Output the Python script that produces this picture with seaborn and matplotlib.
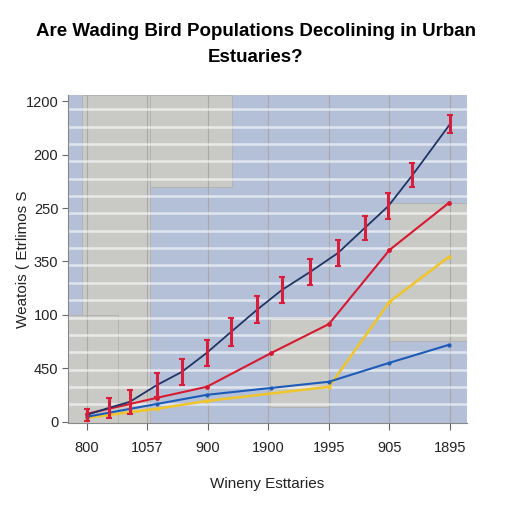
import numpy as np
import seaborn as sns
import matplotlib.pyplot as plt
from matplotlib.ticker import MultipleLocator
from matplotlib.patches import Rectangle

# x positions are slots along the (oddly labelled) time axis
x_ticks = [0, 1, 2, 3, 4, 5, 6]
x_tick_labels = ["800", "1057", "900", "1900", "1995", "905", "1895"]
y_ticks = [0, 200, 400, 600, 800, 1000, 1200]
y_tick_labels = ["0", "450", "100", "350", "250", "200", "1200"]

# total estimate with error bars
total_x = [0, 0.36, 0.71, 1.16, 1.57, 1.98, 2.38, 2.81, 3.22, 3.69, 4.15, 4.59, 4.98, 5.38, 6.0]
total_y = [26, 52, 75, 138, 187, 258, 336, 419, 493, 561, 632, 725, 807, 923, 1114]
total_err = [22, 38, 45, 45, 48, 50, 52, 50, 50, 50, 50, 45, 48, 45, 35]

red_x = [0, 1.16, 1.98, 3.05, 4.0, 5.0, 5.98]
red_y = [30, 90, 131, 258, 366, 643, 819]

yellow_x = [0, 1.16, 1.98, 4.0, 5.0, 5.98]
yellow_y = [15, 49, 78, 131, 449, 617]

blue_x = [0, 1.16, 1.98, 3.05, 4.0, 5.0, 5.98]
blue_y = [19, 67, 101, 127, 150, 221, 288]

GRAY = "#c9c9c6"
BLUE_BG = "#b4c0d7"

plt.rcParams['font.family'] = ['Liberation Sans', 'DejaVu Sans']

fig = plt.figure(figsize=(5.12, 5.12), dpi=100)
ax = fig.add_axes([0.133, 0.174, 0.779, 0.640])
ax.set_facecolor(BLUE_BG)

# patchwork background panels (axes fraction: x, y, w, h)
panels = [(0.035, 0.0, 0.17, 1.0), (0.205, 0.72, 0.205, 0.28),
          (0.0, 0.0, 0.125, 0.33), (0.505, 0.05, 0.15, 0.27),
          (0.805, 0.25, 0.195, 0.42)]
for px, py, pw, ph in panels:
    ax.add_patch(Rectangle((px, py), pw, ph, transform=ax.transAxes,
                           facecolor=GRAY, edgecolor="#b0b0b0", lw=0.6, zorder=0))

ax.yaxis.set_minor_locator(MultipleLocator(65))
ax.grid(which="minor", axis="y", color="white", lw=1.8, alpha=0.6, zorder=1)
ax.grid(which="major", axis="x", color="#a8a8a8", lw=0.8, zorder=1)
ax.set_axisbelow(True)

sns.lineplot(x=total_x, y=total_y, color="#1f3566", lw=1.3, ax=ax, zorder=4)
ax.errorbar(total_x, total_y, yerr=total_err, fmt="none", ecolor="#d81e3a",
            elinewidth=2.2, capsize=2.5, capthick=1.5, zorder=5)
sns.lineplot(x=red_x, y=red_y, color="#d61a30", lw=1.5, marker="o",
             markersize=3.5, markeredgewidth=0, ax=ax, zorder=3)
sns.lineplot(x=yellow_x, y=yellow_y, color="#efc52a", lw=1.8, marker="o",
             markersize=3, markeredgewidth=0, ax=ax, zorder=2)
sns.lineplot(x=blue_x, y=blue_y, color="#1d5bb8", lw=1.5, marker="o",
             markersize=3, markeredgewidth=0, ax=ax, zorder=3)

ax.set_xlim(-0.31, 6.28)
ax.set_ylim(-4, 1222)
ax.set_xticks(x_ticks)
ax.set_xticklabels(x_tick_labels, fontsize=10.5, color="#222222")
ax.set_yticks(y_ticks)
ax.set_yticklabels(y_tick_labels, fontsize=10.5, color="#222222")
ax.tick_params(axis="x", which="major", length=5, pad=8, color="#666666")
ax.tick_params(axis="y", which="major", length=4, pad=3, color="#666666")
ax.tick_params(which="minor", length=0)

for side in ["top", "right"]:
    ax.spines[side].set_visible(False)
for side in ["left", "bottom"]:
    ax.spines[side].set_color("#888888")

ax.set_xlabel("Wineny Esttaries", fontsize=11, labelpad=16, color="#222222")
ax.set_ylabel("Weatois ( Etrlimos S", fontsize=11, labelpad=-3, color="#222222")
fig.suptitle("Are Wading Bird Populations Decolining in Urban\nEstuaries?",
             x=0.5, y=0.956, fontsize=13.5, fontweight="bold", linespacing=1.7)

fig.savefig("out.png", dpi=100)
